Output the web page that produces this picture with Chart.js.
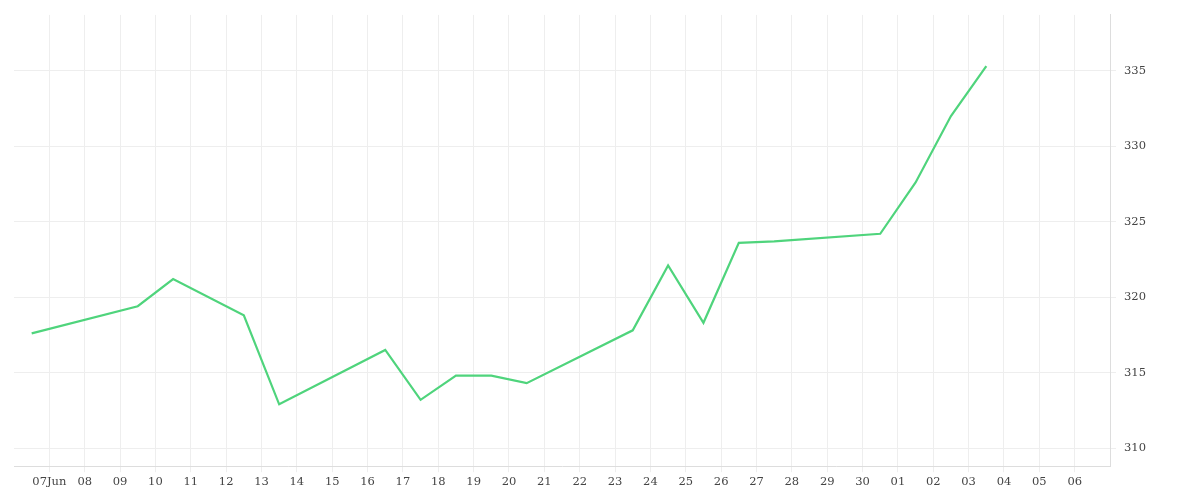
<!DOCTYPE html>
<html><head><meta charset="utf-8">
<script src="https://cdn.jsdelivr.net/npm/chart.js@4"></script>
<style>body{margin:0;background:#fff}#w{width:1200px;height:500px}</style>
</head><body><div id="w"><canvas id="c"></canvas></div>
<script>
// day numbers: June days as is, July days as 30+day; points at noon (x.5)
const days = [6.5, 9.5, 10.5, 12.5, 13.5, 16.5, 17.5, 18.5, 19.5, 20.5, 23.5, 24.5, 25.5, 26.5, 27.5, 30.5, 31.5, 32.5, 33.5];
const prices = [317.6, 319.4, 321.2, 318.8, 312.9, 316.5, 313.2, 314.8, 314.8, 314.3, 317.8, 322.1, 318.3, 323.6, 323.7, 324.2, 327.6, 332.0, 335.3];
const tickDays = [7,8,9,10,11,12,13,14,15,16,17,18,19,20,21,22,23,24,25,26,27,28,29,30,31,32,33,34,35,36];
const tickLabels = ['07Jun','08','09','10','11','12','13','14','15','16','17','18','19','20','21','22','23','24','25','26','27','28','29','30','01','02','03','04','05','06'];
const yTicks = [310,315,320,325,330,335];
const font = {family:'DejaVu Serif', size:11.5};
new Chart(document.getElementById('c'), {
  type:'line',
  data:{datasets:[{data:days.map((d,i)=>({x:d,y:prices[i]})),borderColor:'#4fd47c',borderWidth:2.2,pointRadius:0,tension:0,fill:false}]},
  options:{responsive:true,maintainAspectRatio:false,animation:false,
    layout:{padding:{left:14,top:6,right:46,bottom:8}},
    plugins:{legend:{display:false},tooltip:{enabled:false}},
    scales:{
      x:{type:'linear',min:6,max:37,
        afterBuildTicks:a=>{a.ticks=tickDays.map(v=>({value:v}));},
        ticks:{autoSkip:false,maxRotation:0,color:'#444',font,callback:(v)=>tickLabels[tickDays.indexOf(v)]},
        grid:{color:'#eeeeee',drawTicks:true,tickLength:6},border:{color:'#dddddd'}},
      y:{position:'right',min:308.8,max:338.7,
        afterBuildTicks:a=>{a.ticks=yTicks.map(v=>({value:v}));},
        ticks:{color:'#444',font,padding:8},
        grid:{color:'#eeeeee',tickLength:6},border:{color:'#dddddd'}}
    }}
});
</script></body></html>
